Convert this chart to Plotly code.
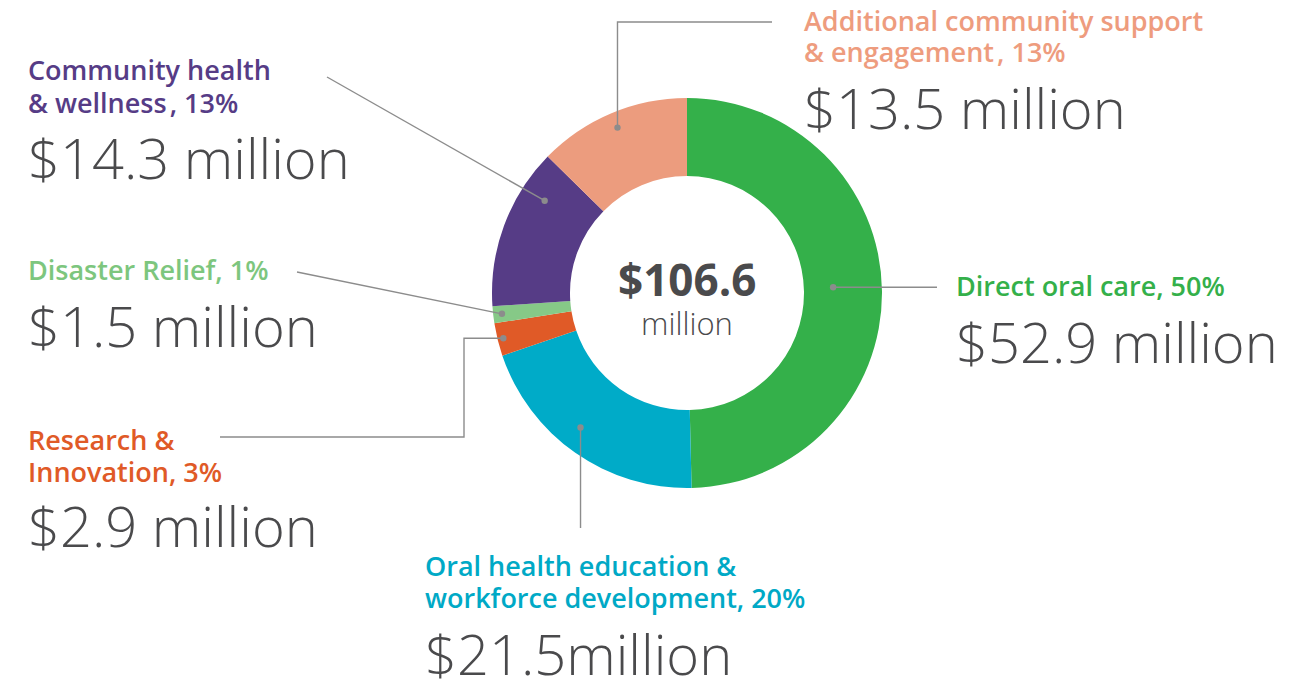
import math
import plotly.graph_objects as go

# ---------------- data ----------------
categories = [
    "Direct oral care",
    "Oral health education & workforce development",
    "Research & Innovation",
    "Disaster Relief",
    "Community health & wellness",
    "Additional community support & engagement",
]
values = [52.9, 21.5, 2.9, 1.5, 14.3, 13.5]          # $ million
percent_labels = ["50%", "20%", "3%", "1%", "13%", "13%"]
amount_labels = ["$52.9 million", "$21.5million", "$2.9 million",
                 "$1.5 million", "$14.3 million", "$13.5 million"]
label_lines = [
    ["Direct oral care, 50%"],
    ["Oral health education &", "workforce development, 20%"],
    ["Research &", "Innovation, 3%"],
    ["Disaster Relief, 1%"],
    ["Community health", "& wellness<span style='font-size:12px'> </span>, 13%"],
    ["Additional community support", "& engagement<span style='font-size:12px'> </span>, 13%"],
]
total_label = "$106.6"
total_unit = "million"

# ---------------- style ----------------
W, H = 1297, 680
colors = ["#34B04A", "#00ABC8", "#E05A27", "#86C987", "#563C86", "#EC9C7E"]
text_colors = ["#34B04A", "#00A9C6", "#E05A27", "#7DC67E", "#563C86", "#EE9C7E"]
DARK = "#4A4A4C"
LINE = "#8C8C8C"
FONT = "Open Sans"
CX, CY, R = 687, 293, 195          # pixel geometry of the donut

def px(x):
    return x / W

def py(y):
    return 1 - y / H

# per-slice leader styling (radius fraction, angle tweak, text placement)
dot_rfrac = [0.75, 0.88, 0.97, 0.955, 0.87, 0.92]
dot_ang_off = [-1.6, 3.4, 0.0, 0.0, 12.7, 0.0]
label_x = [954, 423, 26, 26, 26, 802]
label_y0 = [285, 565, 439, 270, 70, 20]
LINE_GAP = 32
amount_pos = [(954, 341), (423, 653), (26, 525), (26, 325), (26, 157), (802, 107)]

fig = go.Figure()
fig.add_trace(go.Pie(
    labels=categories, values=values, hole=0.6, sort=False,
    direction="clockwise", rotation=0,
    marker=dict(colors=colors, line=dict(width=0)),
    textinfo="none", hoverinfo="label+value+percent",
    domain=dict(x=[px(CX - R), px(CX + R)], y=[py(CY + R), py(CY - R)]),
    showlegend=False,
))

# dots computed from the data (slice mid-angles)
total = sum(values)
dots = []
cum = 0.0
for i, v in enumerate(values):
    ang = math.radians((cum + v / 2) / total * 360 + dot_ang_off[i])
    cum += v
    r = R * dot_rfrac[i]
    dots.append((CX + r * math.sin(ang), CY - r * math.cos(ang)))

# leader line paths (pixel coords)
paths = [
    [dots[0], (937, dots[0][1])],
    [dots[1], (dots[1][0], 528)],
    [dots[2], (464, dots[2][1]), (464, 437), (220, 437)],
    [dots[3], (297, 272)],
    [dots[4], (327, 77)],
    [dots[5], (dots[5][0], 22), (772, 22)],
]
shapes = []
for pts in paths:
    d = "M " + " L ".join(f"{px(x):.5f},{py(y):.5f}" for x, y in pts)
    shapes.append(dict(type="path", path=d, xref="paper", yref="paper",
                       line=dict(color=LINE, width=1.4)))
for x, y in dots:
    rr = 3.2
    shapes.append(dict(type="circle", xref="paper", yref="paper",
                       x0=px(x - rr), x1=px(x + rr), y0=py(y + rr), y1=py(y - rr),
                       fillcolor=LINE, line=dict(width=0)))

annotations = []
for i in range(len(values)):
    for j, line in enumerate(label_lines[i]):
        annotations.append(dict(
            x=px(label_x[i]), y=py(label_y0[i] + j * LINE_GAP), xref="paper", yref="paper",
            xanchor="left", yanchor="middle", text=line, showarrow=False, align="left",
            font=dict(family=FONT, size=27, color=text_colors[i], weight=600)))
    ax, ay = amount_pos[i]
    annotations.append(dict(
        x=px(ax), y=py(ay), xref="paper", yref="paper", xanchor="left", yanchor="middle",
        text=amount_labels[i], showarrow=False, align="left",
        font=dict(family=FONT, size=56, color=DARK, weight=300)))

annotations.append(dict(x=px(CX), y=py(279), xref="paper", yref="paper",
                        text=total_label, showarrow=False,
                        font=dict(family=FONT, size=44, color=DARK, weight=700)))
annotations.append(dict(x=px(CX), y=py(323), xref="paper", yref="paper",
                        text=total_unit, showarrow=False,
                        font=dict(family=FONT, size=31, color=DARK, weight=300)))

fig.update_layout(
    width=W, height=H, margin=dict(l=0, r=0, t=0, b=0),
    paper_bgcolor="white", plot_bgcolor="white",
    shapes=shapes, annotations=annotations,
)
fig.write_html("out.html", config=dict(displayModeBar=False),
               post_script="document.body.style.margin='0';document.body.style.overflow='hidden';")
